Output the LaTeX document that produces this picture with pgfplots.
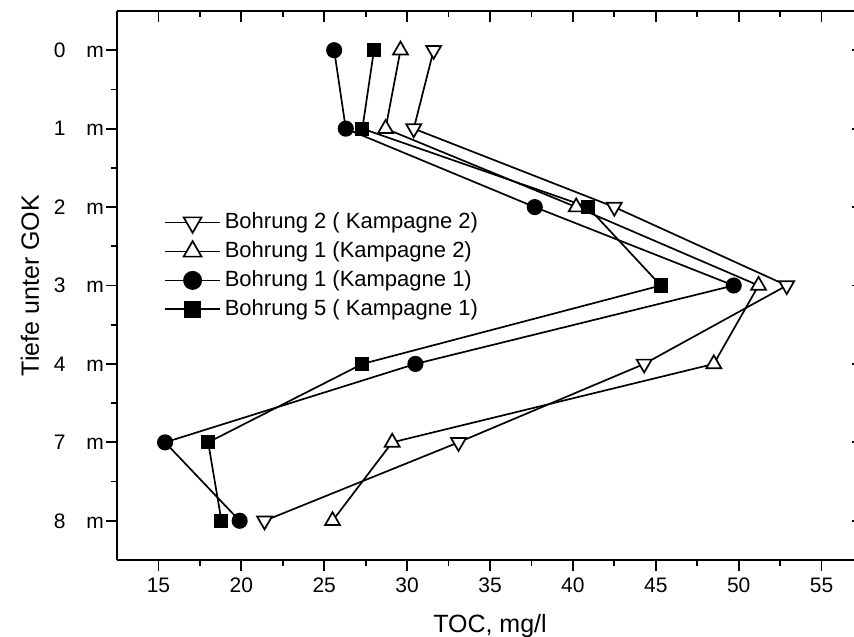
\documentclass[border=0pt]{standalone}
\usepackage{fontspec}
\setmainfont{Liberation Sans}
\usepackage{pgfplots}
\pgfplotsset{compat=1.18}
\begin{document}
\begin{tikzpicture}
\pgfplotsset{
  common/.style={
    scale only axis, width=373pt, height=274.5pt,
    xmin=12.5, xmax=57.5, ymin=-0.5, ymax=6.5,
    xtick={15,20,...,55}, ytick={0,...,6},
    minor x tick num=1, minor y tick num=1,
    major tick length=5.5pt, minor tick length=3pt,
    axis line style={-, line width=1pt, black},
    tick style={black, line width=0.9pt},
  }
}
\begin{axis}[common,
  axis x line*=bottom, axis y line*=left, tick align=outside,
  yticklabels={8\quad m, 7\quad m, 4\quad m, 3\quad m, 2\quad m, 1\quad m, 0\quad m},
  /pgf/number format/assume math mode=true,
  tick label style={font=\fontsize{10.5pt}{12pt}\selectfont},
  y tick label style={xshift=2.5pt},
  xlabel={TOC, mg/l}, ylabel={Tiefe unter GOK},
  every axis x label/.style={at={(axis description cs:0.5,0)}, anchor=base, yshift=-36pt, font=\fontsize{12.5pt}{15pt}\selectfont},
  every axis y label/.style={at={(axis description cs:-0.1166,0.5)}, rotate=90, anchor=center, font=\fontsize{12.5pt}{15pt}\selectfont},
  every axis plot/.append style={black, line width=0.85pt},
  legend style={at={(0.063,0.64)}, anchor=north west, draw=none, fill=none,
    font=\fontsize{11pt}{13pt}\selectfont, inner sep=0pt, row sep=1pt},
  legend cell align=left,
  legend image code/.code={\draw[mark repeat=2,mark phase=2,#1] plot coordinates {(0pt,0pt) (11.4pt,0pt) (22.8pt,0pt)};},
  legend image post style={scale=1.2},
]
\coordinate (SW) at (axis description cs:0,0);
\coordinate (NE) at (axis description cs:1,1);
% y: 0 m -> 6, 1 m -> 5, 2 m -> 4, 3 m -> 3, 4 m -> 2, 7 m -> 1, 8 m -> 0
\addplot[mark=triangle*, mark size=4.3pt, mark options={solid, fill=white, rotate=180}] coordinates {
  (31.6,6) (30.4,5) (42.5,4) (52.9,3) (44.3,2) (33.1,1) (21.4,0)};
\addlegendentry{Bohrung 2 ( Kampagne 2)}
\addplot[mark=triangle*, mark size=4.3pt, mark options={solid, fill=white}] coordinates {
  (29.6,6) (28.7,5) (40.2,4) (51.2,3) (48.5,2) (29.1,1) (25.5,0)};
\addlegendentry{Bohrung 1 (Kampagne 2)}
\addplot[mark=*, mark size=3.6pt] coordinates {
  (25.6,6) (26.3,5) (37.7,4) (49.7,3) (30.5,2) (15.4,1) (19.9,0)};
\addlegendentry{Bohrung 1 (Kampagne 1)}
\addplot[mark=square*, mark size=3.1pt] coordinates {
  (28.0,6) (27.3,5) (40.9,4) (45.3,3) (27.3,2) (18.0,1) (18.8,0)};
\addlegendentry{Bohrung 5 ( Kampagne 1)}
\end{axis}
\begin{axis}[common,
  axis x line*=top, axis y line*=right, tick align=inside,
  xticklabels={}, yticklabels={}]
\end{axis}
\pgfresetboundingbox
\path[use as bounding box] ([xshift=-58.5pt,yshift=-38pt]SW) rectangle ([xshift=-4.5pt,yshift=5.5pt]NE);
\end{tikzpicture}
\end{document}
